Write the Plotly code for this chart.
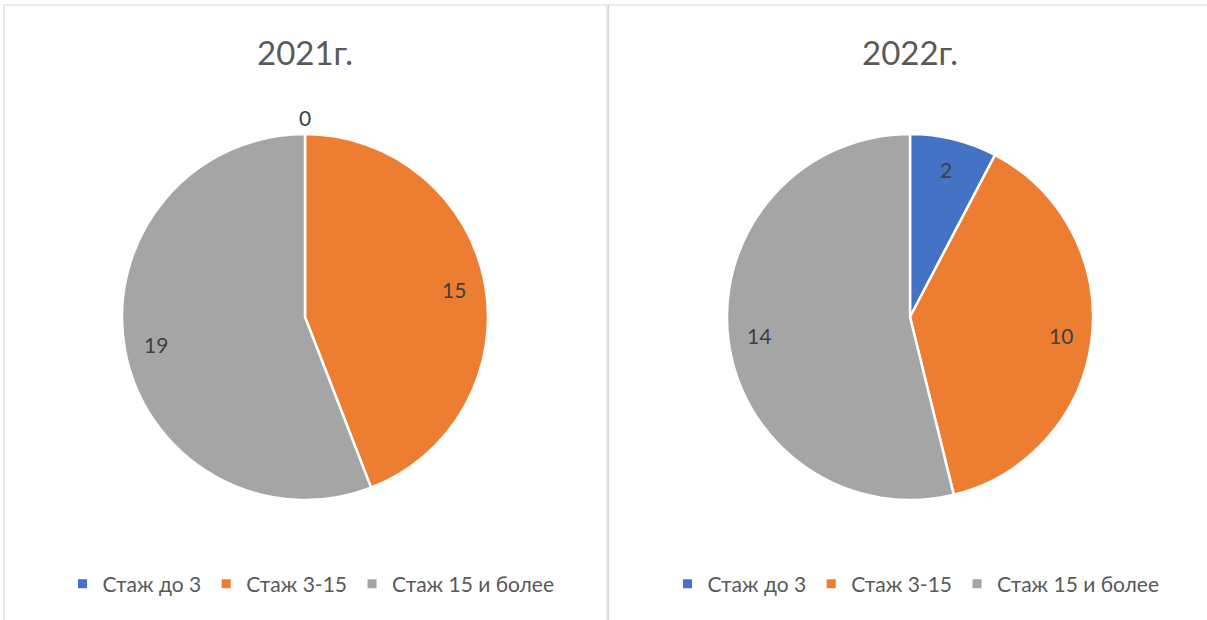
import math
import plotly.graph_objects as go

categories = ["Стаж до 3", "Стаж 3-15", "Стаж 15 и более"]
values_2021 = [0, 15, 19]
values_2022 = [2, 10, 14]
titles = ["2021г.", "2022г."]
colors = ["#4472C4", "#ED7D31", "#A5A5A5"]

W, H = 1207, 620
FONT = "Lato, 'Open Sans', sans-serif"

centers_x = [305, 910]
center_y = 317
R = 183

fig = go.Figure()
for i, vals in enumerate([values_2021, values_2022]):
    cx = centers_x[i]
    fig.add_trace(go.Pie(
        labels=categories,
        values=vals,
        sort=False,
        direction="clockwise",
        rotation=0,
        marker=dict(colors=colors, line=dict(color="white", width=2.5)),
        textinfo="none",
        domain=dict(x=[(cx - R) / W, (cx + R) / W],
                    y=[(H - center_y - R) / H, (H - center_y + R) / H]),
        showlegend=False,
        hoverinfo="label+value",
    ))
    # title
    fig.add_annotation(text=titles[i], x=cx / W, y=1 - 52 / H, xref="paper", yref="paper",
                       showarrow=False, font=dict(family=FONT, size=33, color="#595959"),
                       xanchor="center", yanchor="middle")
    # data labels placed at the middle angle of each slice
    total = sum(vals)
    cum = 0
    for v in vals:
        mid = (cum + v / 2) / total * 2 * math.pi
        rr = R * (1.09 if v == 0 else 0.83)
        px = cx + rr * math.sin(mid)
        py = center_y - rr * math.cos(mid)
        fig.add_annotation(text=str(v), x=px / W, y=1 - py / H,
                           xref="paper", yref="paper", showarrow=False,
                           xanchor="center", yanchor="middle",
                           font=dict(family=FONT, size=21, color="#404040"))
        cum += v
    # legend entries
    for name, col in zip(categories, colors):
        fig.add_trace(go.Scatter(
            x=[None], y=[None], mode="markers", name=name,
            marker=dict(symbol="square", size=9, color=col),
            legend="legend" if i == 0 else "legend2",
            showlegend=True,
        ))

legend_common = dict(orientation="h", xanchor="center", yanchor="middle", y=1 - 584 / H,
                     font=dict(family=FONT, size=21, color="#595959"),
                     bgcolor="rgba(0,0,0,0)", itemclick=False, itemdoubleclick=False,
                     itemwidth=30)
fig.update_layout(
    width=W, height=H,
    margin=dict(l=0, r=0, t=0, b=0),
    paper_bgcolor="white",
    plot_bgcolor="white",
    xaxis=dict(visible=False),
    yaxis=dict(visible=False),
    legend=dict(x=(centers_x[0] + 6) / W, **legend_common),
    legend2=dict(x=(centers_x[1] + 6) / W, **legend_common),
    shapes=[
        dict(type="rect", xref="paper", yref="paper", x0=4 / W, x1=607 / W, y0=-0.05, y1=1 - 5 / H,
             line=dict(color="#D9D9D9", width=1.2)),
        dict(type="rect", xref="paper", yref="paper", x0=608.5 / W, x1=1.05, y0=-0.05, y1=1 - 5 / H,
             line=dict(color="#D9D9D9", width=1.2)),
    ],
)

fig.write_html("out.html", config={"displayModeBar": False},
               post_script="document.body.style.margin='0';")
